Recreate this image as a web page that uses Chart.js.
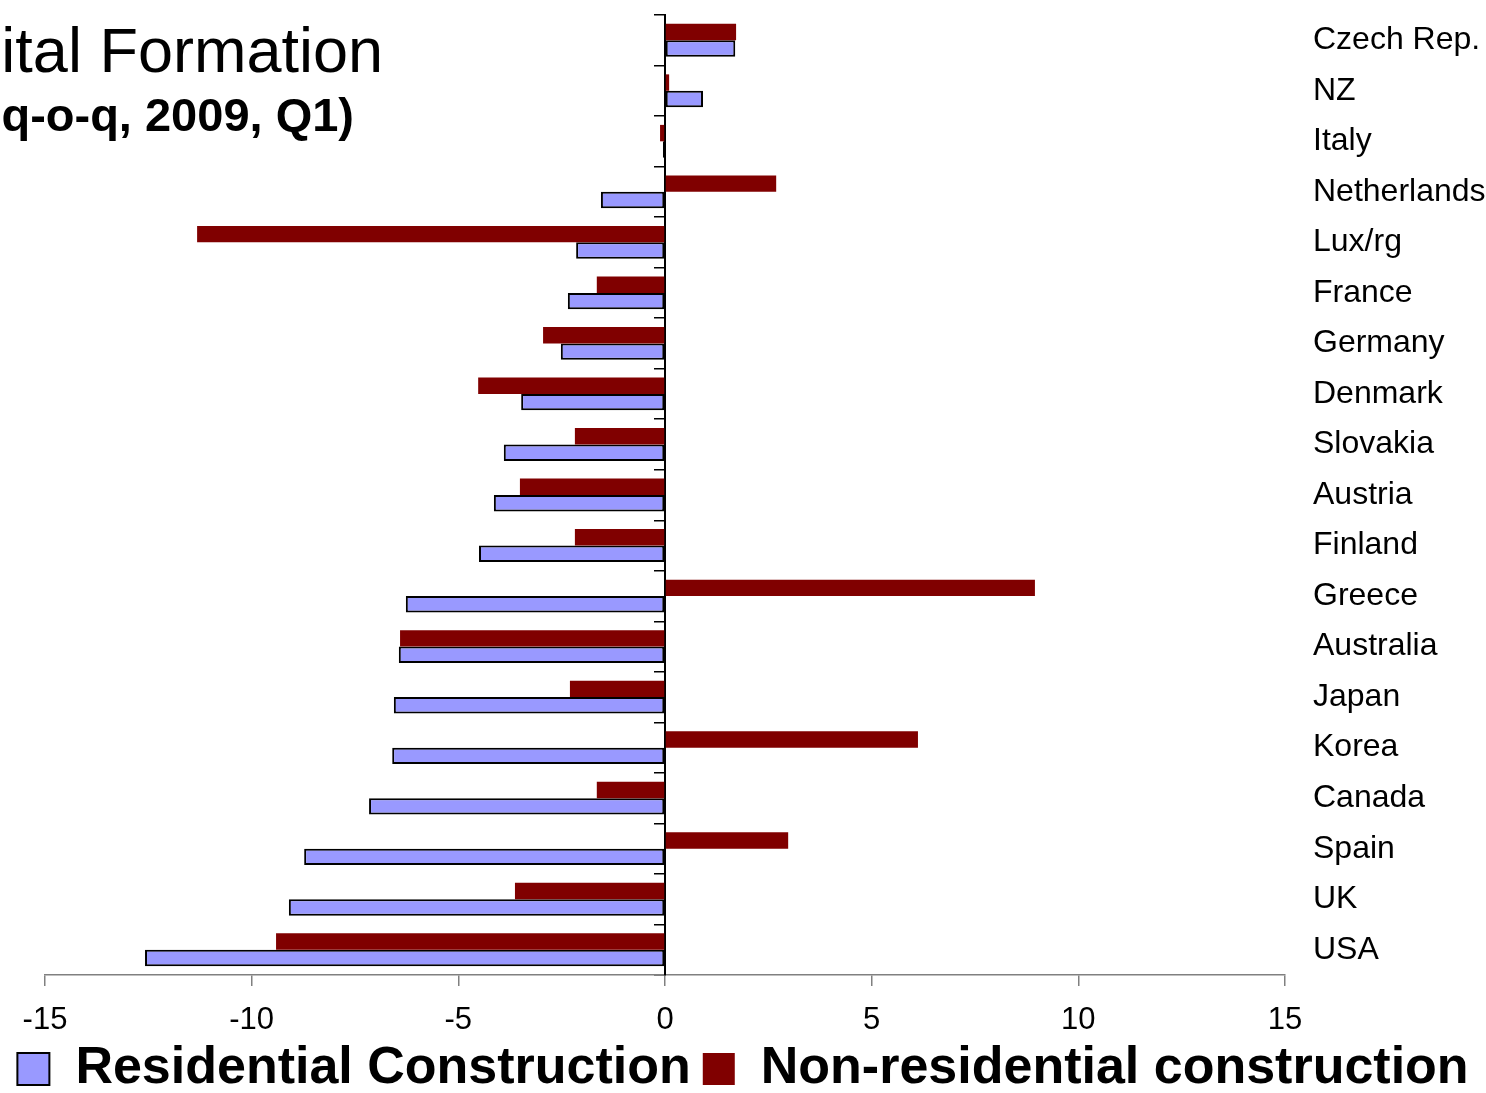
<!DOCTYPE html>
<html>
<head>
<meta charset="utf-8">
<script src="https://cdn.jsdelivr.net/npm/chart.js@4.4.1/dist/chart.umd.min.js"></script>
<style>
  html, body { margin: 0; padding: 0; background: #fff; }
  #wrap { width: 1486px; height: 1093px; position: relative; }
</style>
</head>
<body>
<div id="wrap"><canvas id="chart"></canvas></div>
<script>
// Países (de cima para baixo)
const countries = ["Czech Rep.", "NZ", "Italy", "Netherlands", "Lux/rg", "France", "Germany",
  "Denmark", "Slovakia", "Austria", "Finland", "Greece", "Australia", "Japan", "Korea",
  "Canada", "Spain", "UK", "USA"];

// Construção residencial (% q-o-q)
const residential = [1.7, 0.92, -0.05, -1.55, -2.15, -2.35, -2.52, -3.48, -3.9, -4.14,
  -4.5, -6.27, -6.44, -6.56, -6.6, -7.16, -8.73, -9.1, -12.58];

// Construção não residencial (% q-o-q)
const nonResidential = [1.72, 0.1, -0.12, 2.69, -11.32, -1.65, -2.95, -4.52, -2.18, -3.51,
  -2.18, 8.95, -6.41, -2.3, 6.12, -1.65, 2.98, -3.63, -9.41];

const xTicks = [-15, -10, -5, 0, 5, 10, 15];

const FONT = "'Liberation Sans', Arial, sans-serif";

// Título parcialmente cortado no canto superior esquerdo
const titlePlugin = {
  id: "titleText",
  afterDraw(chart) {
    const ctx = chart.ctx;
    ctx.save();
    ctx.fillStyle = "#000";
    ctx.textAlign = "right";
    ctx.textBaseline = "alphabetic";
    ctx.font = "63px " + FONT;
    ctx.fillText("ital Formation", 383, 72);
    ctx.font = "bold 47px " + FONT;
    ctx.fillText("q-o-q, 2009, Q1)", 354, 131);
    ctx.restore();
  },
};

new Chart(document.getElementById("chart"), {
  type: "bar",
  data: {
    labels: countries,
    datasets: [
      {
        label: "Non-residential construction",
        data: nonResidential,
        backgroundColor: "#800000",
        borderWidth: 0,
        categoryPercentage: 0.65,
        barPercentage: 1.0,
      },
      {
        label: "Residential Construction",
        data: residential,
        backgroundColor: "#9999FF",
        borderColor: "#000",
        borderWidth: 2,
        borderSkipped: false,
        categoryPercentage: 0.65,
        barPercentage: 1.0,
      },
    ],
  },
  options: {
    indexAxis: "y",
    responsive: true,
    maintainAspectRatio: false,
    animation: false,
    layout: { padding: { left: 0, right: 0, top: 15, bottom: 0 } },
    scales: {
      x: {
        min: -15,
        max: 15,
        afterBuildTicks: (scale) => {
          scale.ticks = xTicks.map((v) => ({ value: v }));
        },
        afterFit: (scale) => {
          scale.height = 56;
        },
        border: { display: true, color: "#808080", width: 1.5 },
        grid: { drawOnChartArea: false, drawTicks: true, tickLength: 11, color: "#808080", lineWidth: 1.5 },
        ticks: { color: "#000", font: { family: FONT, size: 31 }, padding: 16, maxRotation: 0 },
      },
      y: {
        position: { x: 0 },
        offset: true,
        border: { display: true, color: "#000", width: 2 },
        grid: { offset: true, drawOnChartArea: false, drawTicks: true, tickLength: 10, color: "#000", lineWidth: 1.5 },
        ticks: { display: false },
      },
      // espaço vazio à esquerda da área do gráfico
      yPad: {
        type: "category",
        axis: "y",
        position: "left",
        border: { display: false },
        grid: { display: false },
        ticks: { display: false },
        afterFit: (scale) => {
          scale.width = 45;
          scale.paddingTop = 0;
          scale.paddingBottom = 0;
        },
      },
      y2: {
        type: "category",
        axis: "y",
        position: "right",
        offset: true,
        border: { display: false },
        grid: { display: false },
        ticks: { color: "#000", font: { family: FONT, size: 32 }, padding: 20, crossAlign: "near" },
        afterFit: (scale) => {
          scale.width = 201;
          scale.paddingTop = 0;
          scale.paddingBottom = 0;
        },
      },
    },
    plugins: {
      legend: {
        position: "bottom",
        maxHeight: 62,
        labels: {
          font: { family: FONT, size: 52, weight: "bold" },
          color: "#000",
          boxWidth: 32,
          boxHeight: 32,
          padding: 12,
          sort: (a, b) => b.datasetIndex - a.datasetIndex,
        },
      },
      tooltip: { enabled: false },
    },
  },
  plugins: [titlePlugin],
});
</script>
</body>
</html>
